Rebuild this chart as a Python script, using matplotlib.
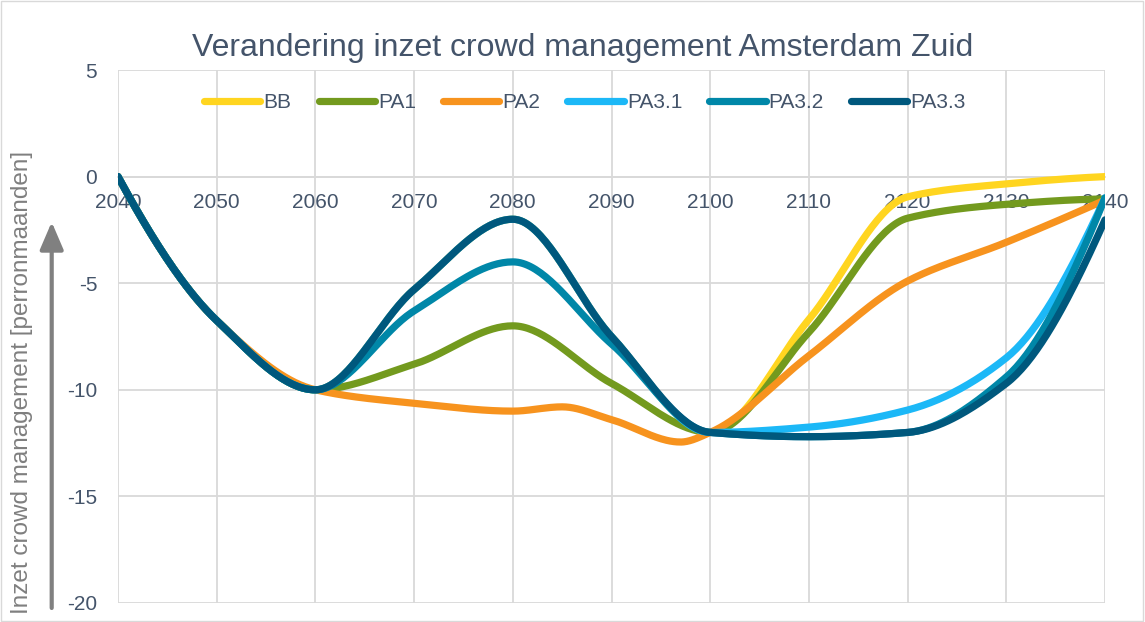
import numpy as np
import matplotlib
matplotlib.use("Agg")
import matplotlib.pyplot as plt
from matplotlib.patches import Rectangle

plt.rcParams['font.family'] = ['Liberation Sans', 'DejaVu Sans']
plt.rcParams['axes.unicode_minus'] = False

# Data (values per decade, PA2 has a few extra points)
years = [2040, 2050, 2060, 2070, 2080, 2090, 2100, 2110, 2120, 2130, 2140]
bb    = [0, -6.75, -10, -5.3, -2, -7.5, -12, -6.7, -0.95, -0.34, 0]
pa1   = [0, -6.75, -10, -8.8, -7, -9.7, -12, -7.3, -1.95, -1.3, -1.05]
pa31  = [0, -6.75, -10, -5.3, -2, -7.5, -12, -11.75, -10.95, -8.5, -1]
pa32  = [0, -6.75, -10, -6.3, -4, -7.85, -12, -12.2, -12.0, -9.4, -1]
pa33  = [0, -6.75, -10, -5.3, -2, -7.5, -12, -12.2, -12.0, -9.7, -2.03]

years_pa2 = [2040, 2050, 2060, 2070, 2080, 2085, 2090, 2097, 2100, 2110, 2120, 2130, 2140]
pa2       = [0, -6.75, -10, -10.63, -11, -10.8, -11.4, -12.45, -12, -8.4, -4.9, -3.08, -1.1]

names  = ['BB', 'PA1', 'PA2', 'PA3.1', 'PA3.2', 'PA3.3']
colors = ['#FFD520', '#739A1E', '#F7931E', '#1CB8F7', '#0087A8', '#00587D']

title = 'Verandering inzet crowd management Amsterdam Zuid'
ylabel = 'Inzet crowd management [perronmaanden]'
text_col = '#44546A'
grid_col = '#D9D9D9'


def smooth(x, y, n=40):
    # monotone cubic (pchip) curve through the points
    x = np.asarray(x, float)
    y = np.asarray(y, float)
    h = np.diff(x)
    d = np.diff(y) / h
    m = np.zeros_like(y)
    for k in range(1, len(x) - 1):
        if d[k - 1] * d[k] > 0:
            w1 = 2 * h[k] + h[k - 1]
            w2 = h[k] + 2 * h[k - 1]
            m[k] = (w1 + w2) / (w1 / d[k - 1] + w2 / d[k])
    for i, (h0, h1, d0, d1) in [(0, (h[0], h[1], d[0], d[1])), (-1, (h[-1], h[-2], d[-1], d[-2]))]:
        s = ((2 * h0 + h1) * d0 - h0 * d1) / (h0 + h1)
        if np.sign(s) != np.sign(d0):
            s = 0
        elif np.sign(d0) != np.sign(d1) and abs(s) > abs(3 * d0):
            s = 3 * d0
        m[i] = s
    xs, ys = [], []
    t = np.linspace(0, 1, n)
    for k in range(len(x) - 1):
        h00 = 2 * t**3 - 3 * t**2 + 1
        h10 = t**3 - 2 * t**2 + t
        h01 = -2 * t**3 + 3 * t**2
        h11 = t**3 - t**2
        xs.append(x[k] + t * h[k])
        ys.append(h00 * y[k] + h10 * h[k] * m[k] + h01 * y[k + 1] + h11 * h[k] * m[k + 1])
    return np.concatenate(xs), np.concatenate(ys)


fig = plt.figure(figsize=(11.45, 6.22), dpi=100)
ax = fig.add_axes([118 / 1145, 1 - 603 / 622, (1105 - 118) / 1145, (603 - 70) / 622])

series = [(years, bb), (years, pa1), (years_pa2, pa2), (years, pa31), (years, pa32), (years, pa33)]
for (x, y), name, c in zip(series, names, colors):
    sx, sy = smooth(x, y)
    ax.plot(sx, sy, color=c, lw=5.2, solid_capstyle='round', label=name, zorder=3)

ax.set_xlim(2040, 2140)
ax.set_ylim(-20, 5)
ax.set_xticks(np.arange(2040, 2141, 10))
ax.set_yticks(np.arange(-20, 6, 5))
ax.grid(True, color=grid_col, lw=1.3)
ax.set_axisbelow(True)
for s in ['top', 'right', 'left']:
    ax.spines[s].set_visible(False)
ax.spines['bottom'].set_position(('data', 0))
ax.spines['bottom'].set_color(grid_col)
ax.spines['bottom'].set_linewidth(1.3)
ax.tick_params(axis='x', length=0, pad=12, labelsize=15, labelcolor=text_col)
ax.tick_params(axis='y', length=0, pad=15, labelsize=15, labelcolor=text_col)

fig.text(0.509, 1 - 48 / 622, title, ha='center', va='center', fontsize=23, color=text_col)

leg = ax.legend(loc='center', bbox_to_anchor=(585 / 1145, 1 - 103 / 622),
                bbox_transform=fig.transFigure, ncol=6, frameon=False,
                fontsize=15, handlelength=2.7, handletextpad=0.15,
                columnspacing=1.3, borderpad=0)
for t in leg.get_texts():
    t.set_color(text_col)

fig.text(21.7 / 1145, 1 - 382 / 622, ylabel, rotation=90, ha='center', va='center',
         fontsize=17.5, color='#7F7F7F')
ax.annotate('', xy=(51.7 / 1145, 1 - 222 / 622), xytext=(51.7 / 1145, 1 - 608 / 622),
            xycoords='figure fraction', textcoords='figure fraction',
            arrowprops=dict(arrowstyle='-|>,head_length=0.7,head_width=0.3',
                            color='#808080', lw=3, mutation_scale=24, shrinkA=0, shrinkB=0))

fig.patches.append(Rectangle((0.001, 0.001), 0.997, 0.997, transform=fig.transFigure,
                             fill=False, ec=grid_col, lw=1))

fig.savefig('out.png', dpi=100)
